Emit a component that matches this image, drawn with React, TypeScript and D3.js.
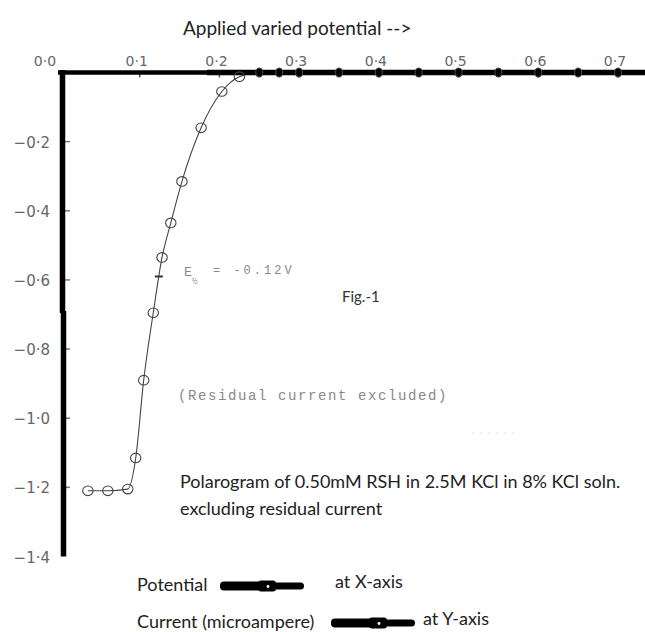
import React, { Component } from "react";
import * as d3 from "d3";

// potential (V) vs current (microampere)
const potential = [0.035, 0.06, 0.085, 0.095, 0.105, 0.117, 0.128, 0.139, 0.153, 0.177, 0.203, 0.225, 0.25, 0.275, 0.3, 0.35, 0.4, 0.45, 0.5, 0.55, 0.6, 0.65, 0.7];
const current = [-1.21, -1.21, -1.205, -1.115, -0.89, -0.695, -0.535, -0.435, -0.315, -0.16, -0.055, -0.012, 0, 0, 0, 0, 0, 0, 0, 0, 0, 0, 0];

const xTicks = [0, 0.1, 0.2, 0.3, 0.4, 0.5, 0.6, 0.7];
const xTickLabels = ["0·0", "0·1", "0·2", "0·3", "0·4", "0·5", "0·6", "0·7"];
const yTicks = [-0.2, -0.4, -0.6, -0.8, -1.0, -1.2, -1.4];
const yTickLabels = ["−0·2", "−0·4", "−0·6", "−0·8", "−1·0", "−1·2", "−1·4"];

const halfWave = { potential: 0.124, current: -0.59 };

const sans = "Lato, 'Open Sans', sans-serif";
const hand = "'DejaVu Sans', sans-serif";
const mono = "'Liberation Mono', 'DejaVu Sans Mono', monospace";

class App extends Component {
  svgRef: any;
  constructor(props: any) {
    super(props);
    this.svgRef = React.createRef();
  }

  componentDidMount() {
    this.drawChart();
  }

  drawChart() {
    const width = 645;
    const height = 632;

    const svg = d3.select(this.svgRef.current);
    svg.selectAll("*").remove();
    svg.attr("width", width).attr("height", height);

    svg.append("rect").attr("width", width).attr("height", height).attr("fill", "#fff");

    const x = d3.scaleLinear().domain([0, 0.7]).range([60, 618]);
    const y = d3.scaleLinear().domain([0, -1.4]).range([72.5, 556.5]);

    const data = potential.map((p, i) => ({ p, c: current[i] }));

    // title
    svg.append("text")
      .attr("x", 183)
      .attr("y", 35)
      .style("font-family", sans)
      .style("font-size", "19px")
      .attr("fill", "#222")
      .text("Applied varied potential -->");

    // x tick labels (hand written, above the axis)
    svg.selectAll(".xlab")
      .data(xTicks)
      .enter()
      .append("text")
      .attr("x", (d, i) => x(d) + (i === 0 ? -15 : -3))
      .attr("y", 66)
      .attr("text-anchor", "middle")
      .style("font-family", hand)
      .style("font-size", "14px")
      .attr("fill", "#666")
      .text((d, i) => xTickLabels[i]);

    // y tick labels
    svg.selectAll(".ylab")
      .data(yTicks)
      .enter()
      .append("text")
      .attr("x", 50)
      .attr("y", d => y(d) + 6)
      .attr("text-anchor", "end")
      .style("font-family", hand)
      .style("font-size", "15px")
      .attr("fill", "#666")
      .text((d, i) => yTickLabels[i]);

    // y tick marks
    svg.selectAll(".ytick")
      .data(yTicks.slice(0, -1))
      .enter()
      .append("line")
      .attr("x1", 64)
      .attr("x2", 70)
      .attr("y1", d => y(d))
      .attr("y2", d => y(d))
      .attr("stroke", "#777")
      .attr("stroke-width", 1.5);

    // x tick marks
    svg.selectAll(".xtick")
      .data(xTicks.slice(1))
      .enter()
      .append("line")
      .attr("x1", d => x(d))
      .attr("x2", d => x(d))
      .attr("y1", y(0))
      .attr("y2", y(0) + 5)
      .attr("stroke", "#555")
      .attr("stroke-width", 1.5);

    // the curve
    const line = d3.line()
      .x(d => x(d.p))
      .y(d => y(d.c))
      .curve(d3.curveMonotoneX);

    svg.append("path")
      .datum(data)
      .attr("d", line)
      .attr("fill", "none")
      .attr("stroke", "#444")
      .attr("stroke-width", 1.1);

    // thick axes
    svg.append("line")
      .attr("x1", 58).attr("x2", 209)
      .attr("y1", y(0)).attr("y2", y(0))
      .attr("stroke", "#000").attr("stroke-width", 4.5);
    svg.append("line")
      .attr("x1", 207).attr("x2", width)
      .attr("y1", y(0)).attr("y2", y(0))
      .attr("stroke", "#000").attr("stroke-width", 5.5);
    svg.append("line")
      .attr("x1", 62.5).attr("x2", 62.5)
      .attr("y1", 70).attr("y2", 313)
      .attr("stroke", "#000").attr("stroke-width", 5.5);
    svg.append("line")
      .attr("x1", 63.5).attr("x2", 63.5)
      .attr("y1", 311).attr("y2", y(-1.4))
      .attr("stroke", "#000").attr("stroke-width", 5.5);

    // markers
    svg.selectAll(".pt")
      .data(data)
      .enter()
      .append("ellipse")
      .attr("cx", d => x(d.p))
      .attr("cy", d => y(d.c))
      .attr("rx", d => (d.c === 0 ? 3.5 : 5.2))
      .attr("ry", d => (d.c === 0 ? 4.5 : 4.8))
      .attr("fill", d => (d.c === 0 ? "#000" : "none"))
      .attr("stroke", "#444")
      .attr("stroke-width", 1.1);

    // half wave mark
    svg.append("line")
      .attr("x1", x(halfWave.potential) - 4)
      .attr("x2", x(halfWave.potential) + 4)
      .attr("y1", y(halfWave.current))
      .attr("y2", y(halfWave.current))
      .attr("stroke", "#333")
      .attr("stroke-width", 2);

    // E 1/2 annotation
    svg.append("text")
      .attr("x", 184).attr("y", 276)
      .style("font-family", mono).style("font-size", "13px")
      .attr("fill", "#888")
      .text("E");
    svg.append("text")
      .attr("x", 192).attr("y", 284)
      .style("font-family", mono).style("font-size", "9px")
      .attr("fill", "#888")
      .text("½");
    svg.append("text")
      .attr("x", 213).attr("y", 274)
      .style("font-family", mono).style("font-size", "12px")
      .style("letter-spacing", "3px")
      .attr("fill", "#888")
      .text("= -0.12V");

    svg.append("text")
      .attr("x", 342).attr("y", 302)
      .style("font-family", sans).style("font-size", "15px")
      .attr("fill", "#333")
      .text("Fig.-1");

    svg.append("text")
      .attr("x", 178).attr("y", 400)
      .style("font-family", mono).style("font-size", "14px")
      .style("letter-spacing", "1.6px")
      .attr("fill", "#888")
      .text("(Residual current excluded)");

    svg.append("text")
      .attr("x", 470).attr("y", 434)
      .style("font-family", mono).style("font-size", "10px")
      .style("letter-spacing", "2px")
      .attr("fill", "#ddd")
      .text("......");

    svg.append("text")
      .attr("x", 180).attr("y", 488)
      .style("font-family", sans).style("font-size", "18px")
      .attr("fill", "#222")
      .text("Polarogram of 0.50mM RSH in 2.5M KCl in 8% KCl soln.");
    svg.append("text")
      .attr("x", 180).attr("y", 515)
      .style("font-family", sans).style("font-size", "18px")
      .attr("fill", "#222")
      .text("excluding residual current");

    // legend
    const legend = [
      { label: "Potential", after: "at X-axis", y: 591, sx: 220, ax: 335 },
      { label: "Current (microampere)", after: "at Y-axis", y: 628, sx: 331, ax: 423 }
    ];

    legend.forEach(l => {
      svg.append("text")
        .attr("x", 137).attr("y", l.y)
        .style("font-family", sans).style("font-size", "18px")
        .attr("fill", "#222")
        .text(l.label);
      svg.append("text")
        .attr("x", l.ax).attr("y", l.y - 3)
        .style("font-family", sans).style("font-size", "18px")
        .attr("fill", "#222")
        .text(l.after);

      const cy = l.y - 5;
      const g = svg.append("g").attr("transform", `translate(${l.sx}, ${cy})`);
      g.append("rect").attr("x", 0).attr("y", -4.5).attr("width", 42).attr("height", 9).attr("rx", 4).attr("fill", "#000");
      g.append("rect").attr("x", 38).attr("y", -5.5).attr("width", 18).attr("height", 11).attr("rx", 3).attr("fill", "#000");
      g.append("rect").attr("x", 52).attr("y", -3.5).attr("width", 32).attr("height", 7).attr("rx", 3.5).attr("fill", "#000");
      g.append("circle").attr("cx", 48).attr("cy", 0.5).attr("r", 1.4).attr("fill", "#fff");
    });
  }

  render() {
    return (
      <svg
        ref={this.svgRef}
        style={{ position: "absolute", left: 0, top: 0 }}
      ></svg>
    );
  }
}

export default App;
